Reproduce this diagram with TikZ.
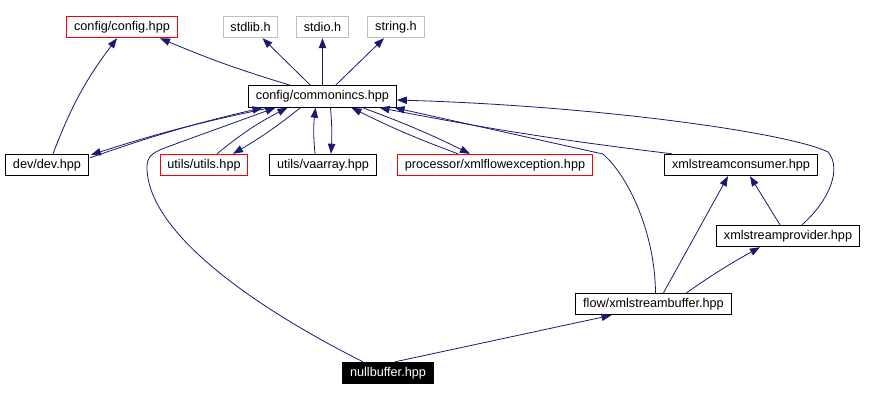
\documentclass[tikz,border=0pt]{standalone}
\usepackage{fontspec}
\setmainfont{Liberation Sans}
\usetikzlibrary{arrows.meta,calc}
\definecolor{edgeblue}{RGB}{25,25,112}
\definecolor{sysgrey}{RGB}{191,191,191}

\begin{document}
\begin{tikzpicture}[x=0.75pt,y=-0.75pt,
    file/.style={draw=black,fill=white,rectangle,inner xsep=5.5pt,inner ysep=0pt,
      minimum height=16pt,font=\fontsize{9.5}{10}\selectfont,line width=0.8pt},
    badfile/.style={file,draw=red},
    sysfile/.style={file,draw=sysgrey},
    thisfile/.style={file,fill=black,text=white},
    dep/.style={edgeblue,line width=0.6pt,-{Triangle[length=7.5pt,width=5.5pt]}}]
      \useasboundingbox (0,0) rectangle (873,401);
      % files
      \node[badfile] (config) at (122,27) {config/config.hpp};
      \node[sysfile] (stdlib) at (250.5,27) {stdlib.h};
      \node[sysfile] (stdio) at (322.5,27) {stdio.h};
      \node[sysfile] (stringh) at (396,27) {string.h};
      \node[file] (commonincs) at (322.5,96.5) {config/commonincs.hpp};
      \node[file] (dev) at (47,165) {dev/dev.hpp};
      \node[badfile] (utils) at (204,165) {utils/utils.hpp};
      \node[file] (vaarray) at (323,165) {utils/vaarray.hpp};
      \node[badfile] (xmlflowexc) at (495,165) {processor/xmlflowexception.hpp};
      \node[file] (consumer) at (741,165) {xmlstreamconsumer.hpp};
      \node[file] (provider) at (788,236) {xmlstreamprovider.hpp};
      \node[file] (flowbuf) at (653.5,304) {flow/xmlstreambuffer.hpp};
      \node[thisfile] (nullbuf) at (388,373) {nullbuffer.hpp};
      % includes
      \draw[dep] ($(dev.north)+(6,0)$) to[bend left=8] ($(config.south)+(-5,0)$);
      \draw[dep] ($(commonincs.north)+(-32,0)$) to[bend left=3] ($(config.south)+(38,0)$);
      \draw[dep] ($(commonincs.north)+(-12,0)$) -- ($(stdlib.south)+(12,0)$);
      \draw[dep] (commonincs.north) -- (stdio.south);
      \draw[dep] ($(commonincs.north)+(13,0)$) -- ($(stringh.south)+(-12,0)$);
      \draw[dep] ($(dev.north east)+(1,4)$) to[bend left=3] ($(commonincs.south)+(-60,0)$);
      \draw[dep] ($(commonincs.south)+(-52,0)$) to[bend right=3] ($(dev.north east)+(2,1)$);
      \draw[dep] ($(nullbuf.north)+(-25,0)$) .. controls (250,305) and (145,230) .. (147,165)
        .. controls (148,152) and (160,150) .. (178,143) -- ($(commonincs.south)+(-47,0)$);
      \draw[dep] ($(utils.north)+(13,0)$) to[bend left=6] ($(commonincs.south)+(-35,0)$);
      \draw[dep] ($(commonincs.south)+(-22,0)$) to[bend left=4] ($(utils.north)+(29,0)$);
      \draw[dep] ($(vaarray.north)+(-8,0)$) to[bend left=6] ($(commonincs.south)+(-7,0)$);
      \draw[dep] ($(commonincs.south)+(8,0)$) to[bend left=4] ($(vaarray.north)+(8,0)$);
      \draw[dep] ($(xmlflowexc.north)+(-37,0)$) to[bend left=3] ($(commonincs.south)+(29,0)$);
      \draw[dep] ($(commonincs.south)+(40,0)$) to[bend left=3] ($(xmlflowexc.north)+(-25,0)$);
      \draw[dep] ($(consumer.north)+(-69,0)$) to[bend left=2] ($(commonincs.south)+(57,0)$);
      \draw[dep] ($(flowbuf.north)+(2,0)$) .. controls (655,235) and (630,178) .. (603,154)
        -- ($(commonincs.south)+(72,0)$);
      \draw[dep] ($(provider.north)+(14,0)$) .. controls (830,200) and (842,168) .. (828,152)
        .. controls (790,133) and (600,106) .. ($(commonincs.east)+(0,3.5)$);
      \draw[dep] ($(flowbuf.north)+(10,0)$) -- ($(consumer.south)+(-13,0)$);
      \draw[dep] ($(flowbuf.north)+(33,0)$) to[bend left=3] ($(provider.south)+(-28,0)$);
      \draw[dep] ($(provider.north)+(-8,0)$) -- ($(consumer.south)+(9,0)$);
      \draw[dep] ($(nullbuf.north)+(7,0)$) -- ($(flowbuf.south)+(-42,0)$);
\end{tikzpicture}
\end{document}
